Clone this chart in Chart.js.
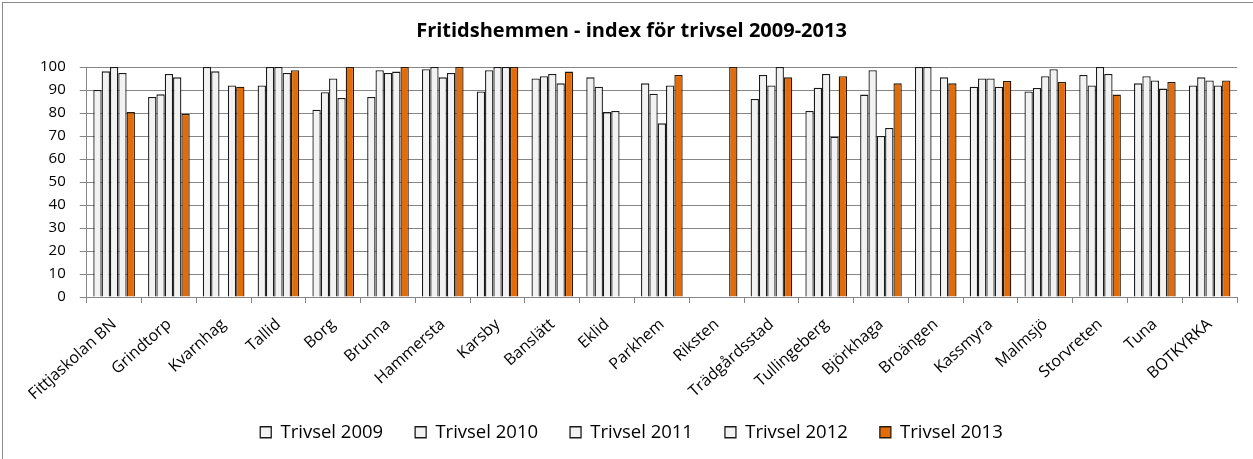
<!DOCTYPE html>
<html>
<head>
<meta charset="utf-8">
<script src="https://cdn.jsdelivr.net/npm/chart.js@4/dist/chart.umd.min.js"></script>
<style>
    body { margin: 0; background: #fff; }
    #ram { position: absolute; left: 2px; top: 2px; width: 1260px; height: 470px;
           border-top: 1px solid #8c8c8c; border-left: 1px solid #8c8c8c; }
    #wrap { width: 1251px; height: 457px; }
</style>
</head>
<body>
<div id="ram"><div id="wrap"><canvas id="canvas"></canvas></div></div>
<script>
var skolor = ["Fittjaskolan BN", "Grindtorp", "Kvarnhag", "Tallid", "Borg", "Brunna", "Hammersta",
    "Karsby", "Banslätt", "Eklid", "Parkhem", "Riksten", "Trädgårdsstad", "Tullingeberg",
    "Björkhaga", "Broängen", "Kassmyra", "Malmsjö", "Storvreten", "Tuna", "BOTKYRKA"];

var trivsel2009 = [90, 87, 100, 92, 81.4, 87, 99, 89.4, 95, 95.5, 92.9, null, 86.1, 80.9, 88, 100, 91.4, 89.4, 96.5, 92.9, 92];
var trivsel2010 = [98.1, 88.1, 98.1, 100, 89, 98.6, 100, 98.6, 96, 91.4, 88.4, null, 96.5, 91, 98.6, 100, 95, 90.9, 92, 96, 95.5];
var trivsel2011 = [100, 97, null, 100, 95, 97.4, 95.5, 100, 97, 80.4, 75.5, null, 92, 97, 70, null, 95, 96, 100, 94.1, 94.1];
var trivsel2012 = [97.4, 95.5, 92, 97.4, 86.5, 98, 97.4, 100, 92.9, 80.9, 92, null, 100, 69.7, 73.5, 95.5, 91.4, 99, 97, 90.6, 92];
var trivsel2013 = [80.4, 79.6, 91.4, 98.6, 100, 100, 100, 100, 98, null, 96.5, 100, 95.5, 96, 92.9, 92.9, 93.9, 93.5, 88, 93.5, 94.1];

var yTicks = [0, 10, 20, 30, 40, 50, 60, 70, 80, 90, 100];

var FONT = "'Open Sans', 'DejaVu Sans', sans-serif";
var GRID = '#868686';

function createDataset(name, dados, fyll, kant) {
    return {
        label: name,
        data: dados,
        backgroundColor: fyll,
        borderColor: kant,
        borderWidth: 1.3,
        borderSkipped: 'bottom'
    };
}

// lyfter legenden lite närmare axeletiketterna
var flyttaLegend = {
    id: 'flyttaLegend',
    afterLayout: function (chart) {
        if (chart.legend) {
            chart.legend.top -= 8;
            chart.legend.bottom -= 8;
        }
    }
};

var config = {
    type: 'bar',
    data: {
        labels: skolor,
        datasets: [
            createDataset('Trivsel 2009', trivsel2009, '#f2f2f2', '#1a1a1a'),
            createDataset('Trivsel 2010', trivsel2010, '#f2f2f2', '#1a1a1a'),
            createDataset('Trivsel 2011', trivsel2011, '#f2f2f2', '#1a1a1a'),
            createDataset('Trivsel 2012', trivsel2012, '#f2f2f2', '#1a1a1a'),
            createDataset('Trivsel 2013', trivsel2013, '#e36c0a', '#2b1a0a')
        ]
    },
    plugins: [flyttaLegend],
    options: {
        responsive: true,
        maintainAspectRatio: false,
        animation: false,
        layout: { padding: { left: 23, right: 17, top: 0, bottom: 0.5 } },
        datasets: { bar: { categoryPercentage: 0.76, barPercentage: 1.0 } },
        plugins: {
            title: {
                display: true,
                text: 'Fritidshemmen - index för trivsel 2009-2013',
                color: '#000',
                font: { family: FONT, size: 20, weight: 'bold', lineHeight: 1.2 },
                padding: { top: 16, bottom: 24 }
            },
            legend: {
                position: 'bottom',
                labels: {
                    color: '#000',
                    font: { family: FONT, size: 18.5 },
                    boxWidth: 11,
                    boxHeight: 11,
                    padding: 32
                }
            },
            tooltip: { enabled: false }
        },
        scales: {
            x: {
                afterFit: function (axis) {
                    axis.paddingLeft = 0;
                    axis.paddingRight = 0;
                    axis.height = 102;
                },
                grid: { display: true, drawOnChartArea: false, drawTicks: true, tickLength: 6, color: GRID },
                border: { display: true, color: GRID },
                ticks: {
                    color: '#000',
                    font: { family: FONT, size: 16 },
                    minRotation: 42,
                    maxRotation: 42,
                    autoSkip: false,
                    padding: 12
                }
            },
            y: {
                min: 0,
                max: 100,
                afterBuildTicks: function (axis) {
                    axis.ticks = yTicks.map(function (v) { return { value: v }; });
                },
                grid: { color: GRID, tickLength: 7 },
                border: { display: true, color: GRID },
                ticks: {
                    color: '#000',
                    font: { family: FONT, size: 15 },
                    padding: 14
                }
            }
        }
    }
};

var ctx = document.getElementById('canvas').getContext('2d');
window.myBar = new Chart(ctx, config);
</script>
</body>
</html>
